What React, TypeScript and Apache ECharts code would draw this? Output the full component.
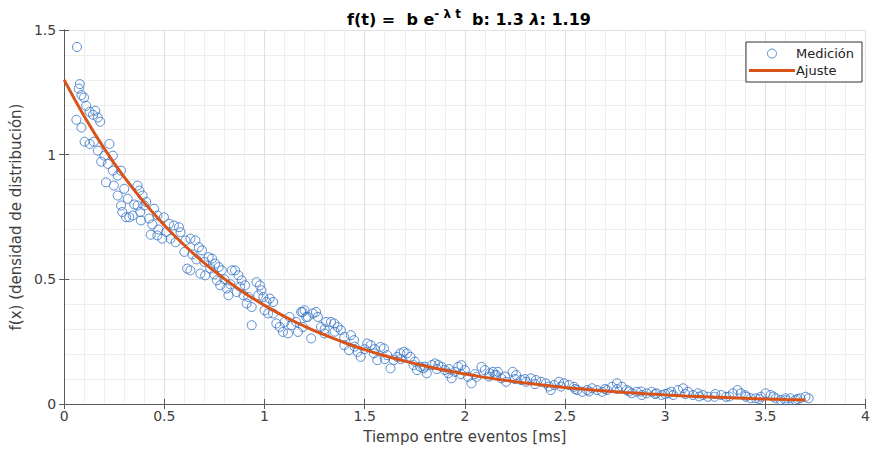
import React, { useEffect, useRef } from "react";
import * as echarts from "echarts";

// Medición: [t (ms), f(x)]
const medicion: [number, number][] = [
  [0.064, 1.432], [0.061, 1.14], [0.073, 1.265], [0.078, 1.283], [0.086, 1.239], [0.086, 1.109],
  [0.099, 1.229], [0.102, 1.052], [0.11, 1.196], [0.127, 1.172], [0.127, 1.043], [0.144, 1.16],
  [0.148, 1.052], [0.155, 1.176], [0.168, 1.149], [0.168, 1.016], [0.18, 1.132], [0.185, 0.972],
  [0.201, 0.996], [0.209, 0.889], [0.218, 0.963], [0.226, 1.043], [0.243, 0.996], [0.243, 0.936],
  [0.248, 0.876], [0.267, 0.916], [0.267, 0.836], [0.284, 0.936], [0.284, 0.796], [0.29, 0.77],
  [0.3, 0.863], [0.309, 0.749], [0.317, 0.823], [0.325, 0.749], [0.342, 0.756], [0.35, 0.8],
  [0.366, 0.876], [0.375, 0.856], [0.391, 0.836], [0.366, 0.796], [0.38, 0.77], [0.383, 0.736],
  [0.4, 0.796], [0.41, 0.81], [0.424, 0.744], [0.432, 0.679], [0.44, 0.72], [0.449, 0.783],
  [0.465, 0.756], [0.465, 0.676], [0.47, 0.7], [0.49, 0.663], [0.498, 0.749], [0.51, 0.69],
  [0.523, 0.723], [0.531, 0.663], [0.548, 0.716], [0.556, 0.649], [0.573, 0.709],
  [0.581, 0.689], [0.6, 0.61], [0.606, 0.656], [0.614, 0.543], [0.63, 0.663], [0.63, 0.536],
  [0.64, 0.6], [0.655, 0.656], [0.66, 0.58], [0.672, 0.629], [0.68, 0.523], [0.688, 0.616],
  [0.7, 0.57], [0.704, 0.516], [0.721, 0.589], [0.729, 0.543], [0.738, 0.583], [0.75, 0.52],
  [0.754, 0.563], [0.762, 0.496], [0.771, 0.549], [0.779, 0.476], [0.787, 0.536], [0.8, 0.5],
  [0.812, 0.463], [0.82, 0.436], [0.83, 0.48], [0.837, 0.536], [0.853, 0.536], [0.861, 0.449],
  [0.87, 0.516], [0.878, 0.47], [0.886, 0.496], [0.895, 0.436], [0.903, 0.476], [0.911, 0.403],
  [0.919, 0.429], [0.936, 0.389], [0.936, 0.316], [0.96, 0.489], [0.969, 0.436], [0.977, 0.476],
  [0.985, 0.456], [0.994, 0.429], [1.0, 0.376], [1.01, 0.409], [1.018, 0.363], [1.026, 0.423],
  [1.043, 0.409], [1.043, 0.363], [1.059, 0.323], [1.076, 0.309], [1.092, 0.289], [1.1, 0.329],
  [1.117, 0.283], [1.125, 0.349], [1.134, 0.316], [1.158, 0.329], [1.167, 0.289], [1.183, 0.369],
  [1.19, 0.369], [1.192, 0.309], [1.2, 0.376], [1.208, 0.349], [1.216, 0.349], [1.233, 0.263],
  [1.241, 0.363], [1.257, 0.369], [1.266, 0.349], [1.282, 0.309], [1.299, 0.283], [1.3, 0.3],
  [1.307, 0.329], [1.332, 0.329], [1.348, 0.323], [1.35, 0.29], [1.365, 0.309], [1.381, 0.296],
  [1.398, 0.269], [1.398, 0.236], [1.422, 0.216], [1.431, 0.276], [1.447, 0.256], [1.45, 0.23],
  [1.464, 0.209], [1.48, 0.189], [1.5, 0.22], [1.513, 0.243], [1.53, 0.236], [1.546, 0.203],
  [1.55, 0.22], [1.563, 0.176], [1.579, 0.229], [1.596, 0.223], [1.6, 0.18], [1.612, 0.196],
  [1.629, 0.143], [1.645, 0.176], [1.662, 0.189], [1.678, 0.203], [1.68, 0.18], [1.695, 0.209],
  [1.711, 0.203], [1.728, 0.189], [1.744, 0.156], [1.75, 0.17], [1.761, 0.136], [1.777, 0.149],
  [1.794, 0.143], [1.8, 0.15], [1.81, 0.123], [1.835, 0.156], [1.851, 0.163], [1.86, 0.14],
  [1.868, 0.156], [1.884, 0.149], [1.9, 0.136], [1.917, 0.123], [1.92, 0.14], [1.934, 0.103],
  [1.95, 0.129], [1.967, 0.149], [1.98, 0.12], [1.983, 0.156], [2.0, 0.136], [2.016, 0.109],
  [2.033, 0.083], [2.05, 0.12], [2.058, 0.109], [2.083, 0.149], [2.1, 0.136], [2.12, 0.11],
  [2.124, 0.123], [2.14, 0.129], [2.149, 0.116], [2.157, 0.116], [2.165, 0.129], [2.182, 0.103],
  [2.2, 0.11], [2.206, 0.089], [2.239, 0.129], [2.25, 0.1], [2.256, 0.116], [2.281, 0.096],
  [2.3, 0.1], [2.305, 0.089], [2.33, 0.103], [2.35, 0.08], [2.355, 0.096], [2.38, 0.089],
  [2.404, 0.083], [2.42, 0.07], [2.429, 0.056], [2.446, 0.076], [2.47, 0.089], [2.48, 0.07],
  [2.495, 0.083], [2.52, 0.076], [2.545, 0.069], [2.55, 0.06], [2.561, 0.056], [2.586, 0.049],
  [2.61, 0.056], [2.62, 0.05], [2.635, 0.063], [2.66, 0.056], [2.685, 0.049], [2.7, 0.06],
  [2.71, 0.056], [2.734, 0.069], [2.759, 0.083], [2.76, 0.06], [2.784, 0.069], [2.808, 0.056],
  [2.82, 0.05], [2.833, 0.043], [2.858, 0.049], [2.88, 0.05], [2.883, 0.036], [2.907, 0.043],
  [2.932, 0.049], [2.95, 0.04], [2.957, 0.043], [2.982, 0.036], [3.0, 0.04], [3.015, 0.043],
  [3.03, 0.049], [3.04, 0.036], [3.064, 0.056], [3.089, 0.063], [3.1, 0.04], [3.114, 0.049],
  [3.139, 0.036], [3.163, 0.043], [3.17, 0.03], [3.188, 0.036], [3.213, 0.029], [3.246, 0.029],
  [3.25, 0.04], [3.28, 0.036], [3.304, 0.029], [3.32, 0.03], [3.337, 0.043], [3.361, 0.056],
  [3.378, 0.043], [3.4, 0.035], [3.403, 0.029], [3.427, 0.023], [3.452, 0.023], [3.47, 0.02],
  [3.477, 0.029], [3.501, 0.043], [3.526, 0.036], [3.54, 0.03], [3.551, 0.023], [3.576, 0.016],
  [3.6, 0.023], [3.6, 0.015], [3.625, 0.023], [3.65, 0.016], [3.66, 0.02], [3.675, 0.023],
  [3.7, 0.029], [3.716, 0.023],
];

// Ajuste: f(t) = 1.3 e^(-1.19 t), tabulated
const ajusteT = [0, 0.1, 0.2, 0.3, 0.4, 0.5, 0.6, 0.7, 0.8, 0.9, 1.0, 1.1, 1.2, 1.3, 1.4, 1.5, 1.6, 1.7, 1.8, 1.9,
  2.0, 2.1, 2.2, 2.3, 2.4, 2.5, 2.6, 2.7, 2.8, 2.9, 3.0, 3.1, 3.2, 3.3, 3.4, 3.5, 3.6, 3.7];
const ajusteF = [1.3, 1.1542, 1.0247, 0.9097, 0.8077, 0.7171, 0.6366, 0.5651, 0.5018, 0.4455, 0.3955, 0.3511,
  0.3117, 0.2768, 0.2457, 0.2181, 0.1937, 0.1719, 0.1526, 0.1355, 0.1203, 0.1068, 0.0948, 0.0842, 0.0748,
  0.0664, 0.0589, 0.0523, 0.0464, 0.0412, 0.0366, 0.0325, 0.0288, 0.0256, 0.0227, 0.0202, 0.0179, 0.0159];

const FONT = "DejaVu Sans";
const BLUE = "#2f6fc4";
const ORANGE = "#D95319";

export default function App() {
  const ref = useRef<HTMLDivElement>(null);
  useEffect(() => {
    document.body.style.margin = "0";
    const chart = echarts.init(ref.current!, undefined, { renderer: "svg" });
    const axisColor = "#5a5a5a";
    const labelColor = "#404040";
    const xBase = {
      type: "value" as const,
      min: 0,
      max: 4,
      interval: 0.5,
      axisLine: { show: true, lineStyle: { color: axisColor, width: 1 } },
      axisTick: { show: true, inside: true, length: 5, lineStyle: { color: axisColor } },
    };
    const yBase = {
      type: "value" as const,
      min: 0,
      max: 1.5,
      interval: 0.5,
      axisLine: { show: true, lineStyle: { color: axisColor, width: 1 } },
      axisTick: { show: true, inside: true, length: 5, lineStyle: { color: axisColor } },
    };
    chart.setOption({
      animation: false,
      backgroundColor: "#ffffff",
      textStyle: { fontFamily: FONT },
      title: {
        text: "{b|f(t) =  b e}{s|- λ t}{b|  b: 1.3 }{l|λ}{b|: 1.19}",
        left: 464,
        textAlign: "center",
        top: 3,
        textStyle: {
          fontFamily: FONT,
          rich: {
            b: { fontFamily: FONT, fontSize: 16, fontWeight: "bold", color: "#000" },
            s: { fontFamily: FONT, fontSize: 12, fontWeight: "bold", color: "#000", padding: [0, 0, 10, 0] },
            l: { fontFamily: FONT, fontSize: 16, fontStyle: "italic", color: "#000" },
          },
        },
      },
      legend: {
        right: 11,
        top: 42,
        orient: "vertical",
        backgroundColor: "#ffffff",
        borderColor: "#333",
        borderWidth: 1,
        borderRadius: 0,
        padding: [5, 8, 5, 3],
        itemGap: 4,
        itemWidth: 46,
        itemHeight: 9,
        textStyle: { fontFamily: FONT, fontSize: 13, color: "#222", padding: [0, 0, 0, -4] },
        data: [
          {
            name: "Medición",
            icon: "circle",
            itemStyle: { color: "rgba(0,0,0,0)", borderColor: BLUE, borderWidth: 1 },
          },
          {
            name: "Ajuste",
            icon: "path://M0,0 M46,9 M0,3 L46,3 L46,6 L0,6 Z",
            itemStyle: { color: ORANGE, borderWidth: 0 },
          },
        ],
      },
      grid: { left: 61, right: 4, top: 30, bottom: 46, containLabel: false },
      xAxis: [
        {
          ...xBase,
          position: "bottom",
          name: "Tiempo entre eventos [ms]",
          nameLocation: "middle",
          nameGap: 25,
          nameTextStyle: { fontFamily: FONT, fontSize: 15, color: labelColor },
          axisLabel: { fontFamily: FONT, fontSize: 14, color: labelColor, margin: 5 },
          minorTick: { show: false, splitNumber: 5 },
          splitLine: { show: true, lineStyle: { color: "#e0e0e0", width: 1 } },
          minorSplitLine: { show: true, lineStyle: { color: "#eeeeee", width: 1 } },
        },
        {
          ...xBase,
          position: "top",
          axisLabel: { show: false },
          splitLine: { show: false },
        },
      ],
      yAxis: [
        {
          ...yBase,
          position: "left",
          name: "f(x) (densidad de distribución)",
          nameLocation: "middle",
          nameGap: 36,
          nameTextStyle: { fontFamily: FONT, fontSize: 15, color: labelColor },
          axisLabel: { fontFamily: FONT, fontSize: 14, color: labelColor, margin: 8 },
          minorTick: { show: false, splitNumber: 5 },
          splitLine: { show: true, lineStyle: { color: "#e0e0e0", width: 1 } },
          minorSplitLine: { show: true, lineStyle: { color: "#eeeeee", width: 1 } },
        },
        {
          ...yBase,
          position: "right",
          axisLabel: { show: false },
          splitLine: { show: false },
        },
      ],
      series: [
        {
          name: "Medición",
          type: "scatter",
          xAxisIndex: 0,
          yAxisIndex: 0,
          symbol: "circle",
          symbolSize: 9,
          data: medicion,
          itemStyle: { color: "rgba(0,0,0,0)", borderColor: BLUE, borderWidth: 1 },
          z: 3,
        },
        {
          name: "Ajuste",
          type: "line",
          xAxisIndex: 0,
          yAxisIndex: 0,
          symbol: "none",
          showSymbol: false,
          smooth: true,
          data: ajusteT.map((t, i) => [t, ajusteF[i]]),
          lineStyle: { color: ORANGE, width: 3 },
          itemStyle: { color: ORANGE },
          z: 4,
        },
      ],
    });
    return () => chart.dispose();
  }, []);
  return <div ref={ref} style={{ width: 873, height: 450 }} />;
}
